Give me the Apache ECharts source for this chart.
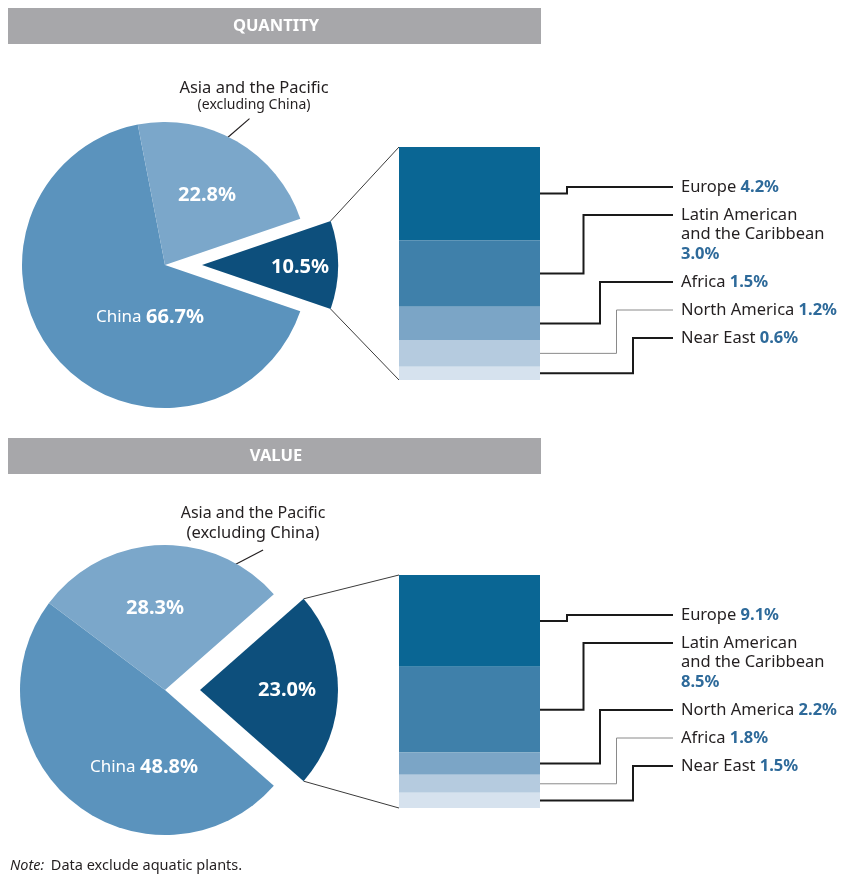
<!DOCTYPE html>
<html><head><meta charset="utf-8">
<script src="https://cdn.jsdelivr.net/npm/echarts@6/dist/echarts.min.js"></script>
<style>html,body{margin:0;padding:0;background:#fff}#c{width:858px;height:878px}</style>
</head><body><div id="c"></div>
<script>
// ---- data ----
const panelTitles = ['QUANTITY', 'VALUE'];
const pieNames = ['Other regions', 'China', 'Asia and the Pacific'];
const quantityPie = [10.5, 66.7, 22.8];
const valuePie = [23.0, 48.8, 28.3];
const quantityRegions = ['Europe', 'Latin American\nand the Caribbean', 'Africa', 'North America', 'Near East'];
const quantityShares = [4.2, 3.0, 1.5, 1.2, 0.6];
const valueRegions = ['Europe', 'Latin American\nand the Caribbean', 'North America', 'Africa', 'Near East'];
const valueShares = [9.1, 8.5, 2.2, 1.8, 1.5];
const asiaLabel = ['Asia and the Pacific', '(excluding China)'];
const noteLead = 'Note:';
const noteText = 'Data exclude aquatic plants.';

// ---- styles / layout ----
const FONT = '"Noto Sans", "Open Sans", sans-serif';
const PIE_COLORS = ['#0d4f7c', '#5b93bd', '#7ba7ca'];
const BAR_COLORS = ['#0a6694', '#3f80aa', '#7ba5c6', '#b5cbdf', '#d6e2ee'];
const TXT = '#231f20', VAL = '#2e6a9a';
const GRID_LEFT = 399, GRID_W = 141, GRID_H = 233;
const panels = [
  {title: panelTitles[0], headerY: 8, pie: quantityPie, regions: quantityRegions, shares: quantityShares,
   cx: 165, cy: 265, r: 143, rExp: 136, off: 37, gridTop: 147,
   labelAt: [[135, 2], [-15, 52], [42, -70]], leader: [64, 60], asiaPos: [89, -177, -160], asiaSizes: [16.5, 14]},
  {title: panelTitles[1], headerY: 438, pie: valuePie, regions: valueRegions, shares: valueShares,
   cx: 165, cy: 690, r: 145, rExp: 138, off: 35, gridTop: 575,
   labelAt: [[122, 0], [-21, 77], [-10, -82]], leader: [61, 55], asiaPos: [88, -177, -157], asiaSizes: [16, 16.5]}
];

const sum = a => a.reduce((s, v) => s + v, 0);
const fmt = v => v.toFixed(1) + '%';

const chart = echarts.init(document.getElementById('c'));

const series = [], grids = [], xAxes = [], yAxes = [];
panels.forEach((p, pi) => {
  const total = sum(p.pie);
  const start = p.pie[0] / total * 180;
  const richPie = {
    n: {color: '#fff', fontSize: 17, fontFamily: FONT},
    v: {color: '#fff', fontSize: 20, fontWeight: 'bold', fontFamily: FONT}
  };
  const labelFmt = prm => prm.dataIndex === 1 ? '{n|China }{v|' + fmt(prm.value) + '}' : '{v|' + fmt(prm.value) + '}';
  const placeFn = prm => ({x: p.cx + p.labelAt[prm.dataIndex][0], y: p.cy + p.labelAt[prm.dataIndex][1], align: 'center', verticalAlign: 'middle'});
  const lbl = {show: true, position: 'inside', formatter: labelFmt, rich: richPie, overflow: 'none'};
  // main pie (China + Asia)
  series.push({
    type: 'pie', silent: true, center: [p.cx, p.cy], radius: p.r, startAngle: start, clockwise: true,
    avoidLabelOverlap: false, label: lbl, labelLine: {show: false}, labelLayout: placeFn,
    data: p.pie.map((v, i) => i === 0
      ? {name: pieNames[i], value: v, itemStyle: {color: 'rgba(0,0,0,0)'}, label: {show: false}}
      : {name: pieNames[i], value: v, itemStyle: {color: PIE_COLORS[i]}})
  });
  // exploded slice
  series.push({
    type: 'pie', silent: true, center: [p.cx + p.off, p.cy], radius: p.rExp, startAngle: start, clockwise: true,
    avoidLabelOverlap: false, label: lbl, labelLine: {show: false}, labelLayout: placeFn,
    data: p.pie.map((v, i) => i === 0
      ? {name: pieNames[i], value: v, itemStyle: {color: PIE_COLORS[0]}}
      : {name: pieNames[i], value: v, itemStyle: {color: 'rgba(0,0,0,0)'}, label: {show: false}})
  });
  grids.push({left: GRID_LEFT, top: p.gridTop, width: GRID_W, height: GRID_H});
  xAxes.push({type: 'category', gridIndex: pi, data: ['share'], show: false});
  yAxes.push({type: 'value', gridIndex: pi, min: 0, max: sum(p.shares), inverse: true, show: false});
  p.shares.forEach((v, i) => {
    series.push({
      type: 'bar', name: p.regions[i], xAxisIndex: pi, yAxisIndex: pi, stack: 's' + pi, barWidth: '100%',
      silent: true, itemStyle: {color: BAR_COLORS[i]}, data: [v]
    });
  });
});

chart.setOption({animation: false, grid: grids, xAxis: xAxes, yAxis: yAxes, series: series});

// ---- annotations computed from scales ----
const g = [];
const line = (a, b, stroke, w) => ({type: 'line', silent: true, shape: {x1: a[0], y1: a[1], x2: b[0], y2: b[1]}, style: {stroke: stroke, lineWidth: w}});
panels.forEach((p, pi) => {
  g.push({type: 'rect', silent: true, shape: {x: 8, y: p.headerY, width: 533, height: 36}, style: {fill: '#a7a7aa'}});
  g.push({type: 'text', silent: true, x: 276, y: p.headerY + 18, style: {text: p.title, fill: '#fff', font: 'bold 16.5px ' + FONT, align: 'center', verticalAlign: 'middle'}});
  const total = sum(p.pie);
  const half = p.pie[0] / total * Math.PI;
  const ex = p.cx + p.off;
  const cTop = [ex + p.rExp * Math.cos(half), p.cy - p.rExp * Math.sin(half)];
  const cBot = [ex + p.rExp * Math.cos(half), p.cy + p.rExp * Math.sin(half)];
  const tot = sum(p.shares);
  const yTop = chart.convertToPixel({gridIndex: pi}, [0, 0])[1];
  const yBot = chart.convertToPixel({gridIndex: pi}, [0, tot])[1];
  g.push(line(cTop, [GRID_LEFT, yTop], '#3a3a3a', 1));
  g.push(line(cBot, [GRID_LEFT, yBot], '#3a3a3a', 1));
  // Asia label and leader
  const rad = d => d * Math.PI / 180;
  const a1 = rad(p.leader[0]), a2 = rad(p.leader[1]);
  g.push(line([p.cx + (p.r - 2) * Math.cos(a1), p.cy - (p.r - 2) * Math.sin(a1)],
              [p.cx + (p.r + 26) * Math.cos(a2), p.cy - (p.r + 26) * Math.sin(a2)], '#231f20', 1.2));
  g.push({type: 'text', silent: true, x: p.cx + p.asiaPos[0], y: p.cy + p.asiaPos[1], style: {text: asiaLabel[0], fill: TXT, font: p.asiaSizes[0] + 'px ' + FONT, align: 'center', verticalAlign: 'middle'}});
  g.push({type: 'text', silent: true, x: p.cx + p.asiaPos[0], y: p.cy + p.asiaPos[2], style: {text: asiaLabel[1], fill: TXT, font: p.asiaSizes[1] + 'px ' + FONT, align: 'center', verticalAlign: 'middle'}});
  // region labels with elbow connectors
  let cum = 0;
  let ly = yTop + 40;
  const LH = 19.5;
  const barRight = GRID_LEFT + GRID_W;
  p.shares.forEach((v, i) => {
    const ym = chart.convertToPixel({gridIndex: pi}, [0, cum + v / 2])[1];
    cum += v;
    const exX = barRight + 27 + 16.5 * i;
    const thin = i === 3;
    g.push({type: 'polyline', silent: true, shape: {points: [[barRight, ym], [exX, ym], [exX, ly], [673, ly]]},
            style: {stroke: thin ? '#8a8a8a' : '#1a1a1a', lineWidth: thin ? 1 : 2, fill: null}});
    const parts = p.regions[i].split('\n');
    let txt;
    if (parts.length > 1) txt = parts.map(s => '{n|' + s + '}').join('\n') + '\n{v|' + fmt(v) + '}';
    else txt = '{n|' + parts[0] + ' }{v|' + fmt(v) + '}';
    const nLines = parts.length > 1 ? parts.length + 1 : 1;
    g.push({type: 'text', silent: true, x: 681, y: ly - LH / 2, style: {
      text: txt, verticalAlign: 'top', align: 'left',
      rich: {n: {fontSize: 16.5, fontFamily: FONT, fill: TXT, lineHeight: LH},
             v: {fontSize: 16.5, fontFamily: FONT, fontWeight: 'bold', fill: VAL, lineHeight: LH}}
    }});
    ly += 28 + (nLines - 1) * LH;
  });
});
g.push({type: 'text', silent: true, x: 10, y: 866, style: {
  text: '{i|' + noteLead + '}  {n|' + noteText + '}', verticalAlign: 'middle',
  rich: {i: {fontSize: 14.5, fontStyle: 'italic', fontFamily: FONT, fill: TXT}, n: {fontSize: 14.5, fontFamily: FONT, fill: TXT}}
}});
chart.setOption({graphic: {elements: g}});
</script>
</body></html>
